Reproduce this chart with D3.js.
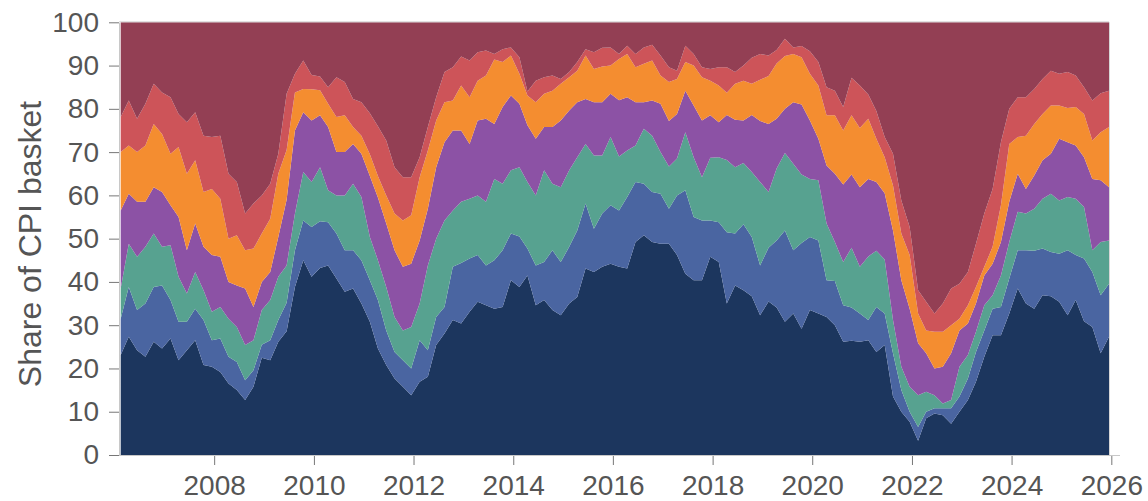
<!DOCTYPE html>
<html>
<head>
<meta charset="utf-8">
<script src="https://cdn.jsdelivr.net/npm/d3@7"></script>
<style>
body { margin: 0; background: #fff; }
text { font-family: "Liberation Sans", Arial, sans-serif; }
</style>
</head>
<body>
<div id="chart"></div>
<script>
// one observation every two months, Feb 2006 .. Dec 2025
var firstMonth = new Date(2006, 1, 15);
var stepMonths = 2;

// shares of the basket, bottom band first
var share1 = [23.1,27.3,24.2,22.7,26.2,24.6,26.9,21.9,24.2,26.5,
  20.8,20.4,19.2,16.5,15.0,12.7,15.8,22.5,21.9,26.2,
  28.6,38.8,45.0,41.2,43.2,43.8,40.8,37.7,38.5,35.0,
  30.8,24.6,20.8,17.7,15.8,13.8,16.9,18.1,25.4,28.1,
  31.2,30.4,33.1,35.4,34.6,33.8,34.2,40.4,38.8,41.5,
  34.6,35.8,33.5,32.3,35.0,36.5,43.1,42.3,43.5,44.2,
  43.5,43.1,49.2,50.8,49.2,48.8,48.8,46.2,41.9,40.4,
  40.4,45.8,44.6,35.0,39.2,38.1,36.7,32.3,35.5,34.1,
  30.8,32.7,29.2,33.5,32.7,31.9,30.0,26.2,26.4,26.2,
  26.5,23.8,25.4,13.5,10.0,7.7,3.3,8.5,9.6,9.2,
  7.2,10.0,12.7,16.9,22.7,27.7,27.7,32.7,38.5,35.0,
  33.8,36.9,36.7,35.4,32.3,35.8,30.9,29.6,23.5,27.3];
var share2 = [8.4,11.5,9.3,12.3,12.6,14.6,8.9,8.9,6.6,7.3,
  10.4,6.1,7.7,6.2,6.5,4.6,3.8,3.0,4.6,5.0,
  6.6,8.5,9.2,11.5,10.8,10.0,10.4,9.6,8.8,10.0,
  9.6,11.2,8.0,6.1,6.1,6.2,9.6,6.1,6.5,6.1,
  12.3,14.0,12.3,10.8,9.2,11.2,13.1,10.8,11.7,6.2,
  9.2,8.8,13.8,12.3,13.1,15.4,15.0,10.0,12.3,13.5,
  13.0,16.5,13.9,11.9,11.6,11.6,8.1,13.8,19.3,14.6,
  13.8,8.4,9.2,16.5,12.0,15.2,13.7,11.5,12.4,15.5,
  21.1,14.6,19.8,16.9,16.9,8.5,10.2,8.4,7.7,6.5,
  4.7,10.4,7.3,10.0,5.0,2.3,3.2,1.5,1.2,1.6,
  3.6,3.5,5.0,6.9,6.1,6.1,6.5,8.1,8.8,12.3,
  13.4,10.8,10.2,11.1,15.0,10.4,14.5,12.7,13.4,12.3];
var share3 = [7.0,10.0,12.3,13.1,12.4,8.9,12.7,10.4,6.5,8.5,
  6.9,6.6,7.3,8.8,8.1,8.1,6.9,8.0,9.3,10.0,
  8.6,8.5,11.2,10.4,12.5,7.4,8.8,12.7,15.4,14.6,
  10.0,9.2,10.0,8.1,6.9,9.6,8.5,19.6,18.1,20.0,
  13.0,14.1,13.8,13.8,14.7,18.8,15.4,14.6,16.0,15.4,
  16.2,21.2,15.4,17.3,17.7,16.9,13.8,16.9,13.4,15.8,
  12.5,10.8,8.4,12.7,13.0,9.6,9.8,8.5,13.4,13.8,
  10.0,14.5,15.0,16.7,15.3,14.2,15.0,19.3,12.9,16.6,
  17.9,20.0,15.8,13.4,13.9,13.1,9.0,10.0,13.8,10.8,
  14.7,13.0,12.5,7.7,5.4,5.8,7.3,4.6,3.0,1.1,
  1.9,6.9,5.4,4.7,5.8,3.1,7.3,8.4,8.9,8.5,
  9.7,11.5,13.5,12.3,12.3,13.0,11.9,5.0,12.3,10.0];
var share4 = [18.0,11.6,12.7,10.4,10.7,12.7,9.2,13.8,10.0,11.2,
  10.0,13.1,11.6,8.5,9.6,13.1,7.7,6.5,6.5,9.2,
  15.2,19.2,13.8,14.2,12.0,14.6,10.0,10.0,9.2,10.0,
  14.1,14.5,14.7,15.4,14.7,14.6,14.6,13.1,16.5,18.1,
  18.5,16.5,12.7,17.3,19.2,12.7,17.7,17.3,14.7,13.1,
  13.1,10.0,13.1,15.4,13.8,12.7,10.4,12.3,12.3,10.0,
  13.0,12.3,10.0,6.1,8.1,11.2,10.5,10.3,9.6,12.0,
  13.1,9.8,8.1,10.4,11.0,9.8,13.2,14.1,15.7,11.5,
  10.2,14.2,16.2,13.5,9.6,13.4,15.8,17.9,16.9,18.4,
  17.9,15.9,15.3,20.7,20.0,18.0,12.0,8.9,6.2,8.5,
  10.8,8.4,7.3,6.5,6.9,7.3,7.7,9.3,8.8,5.7,
  7.7,8.9,9.2,14.3,12.7,12.3,11.5,16.5,14.3,12.3];
var share5 = [13.5,11.1,11.5,13.0,14.6,13.4,11.9,16.2,17.7,14.6,
  12.7,15.3,13.4,10.0,11.6,8.8,13.5,11.2,12.3,14.6,
  11.5,8.8,5.4,7.2,5.8,5.4,8.1,8.5,3.9,4.2,
  5.0,5.0,6.5,8.5,10.7,11.2,14.6,13.5,10.8,9.2,
  6.9,10.4,10.8,9.2,10.0,14.9,10.4,9.2,6.9,6.9,
  8.4,7.7,8.4,8.5,7.7,7.3,10.0,7.7,8.3,6.5,
  9.5,10.0,8.1,8.9,9.3,6.5,9.0,8.1,6.6,9.2,
  10.0,8.0,8.5,5.1,8.3,9.2,7.2,9.5,11.1,12.8,
  12.2,11.2,10.9,10.8,12.3,11.6,13.5,12.5,13.7,13.7,
  13.9,10.0,8.3,10.4,10.8,12.4,6.9,5.3,8.5,8.1,
  6.5,2.7,4.2,3.8,2.0,3.9,8.5,13.4,8.5,12.3,
  11.9,10.7,11.2,7.7,7.9,8.9,10.0,8.9,11.1,13.9];
var share6 = [8.1,10.4,7.7,9.7,9.3,9.6,13.1,7.6,11.9,11.1,
  13.0,12.0,14.6,15.0,12.3,8.5,10.4,8.8,8.1,4.6,
  13.0,4.3,6.6,3.3,3.2,3.8,9.2,7.7,6.5,7.7,
  9.5,11.5,12.7,10.7,10.0,8.8,4.6,5.4,5.4,7.0,
  7.7,6.7,8.5,6.6,5.8,1.3,3.0,1.9,3.8,0.9,
  5.0,3.8,3.5,1.1,1.2,2.0,1.5,3.9,4.3,4.2,
  1.2,1.9,3.1,3.8,3.6,4.6,3.4,1.9,3.8,2.7,
  2.3,2.7,4.2,5.9,2.7,3.5,6.0,6.0,4.7,3.1,
  4.0,1.5,2.6,5.2,5.4,6.5,5.7,5.4,8.7,9.8,
  5.6,6.4,4.7,7.3,7.6,6.5,5.4,6.6,4.2,6.5,
  8.5,8.1,7.7,10.0,12.3,13.4,14.6,8.1,9.2,8.9,
  8.1,8.1,8.0,7.3,8.3,7.3,6.2,9.2,9.0,8.4];
var share7 = [21.9,18.1,22.3,18.8,14.2,16.2,17.3,21.2,23.1,20.8,
  26.2,26.5,26.2,35.0,36.9,44.2,41.9,40.0,37.3,30.4,
  16.5,11.9,8.8,12.2,12.5,15.0,12.7,13.8,17.7,18.5,
  21.0,24.0,27.3,33.5,35.8,35.8,31.2,24.2,17.3,11.5,
  10.4,7.9,8.8,6.9,6.5,7.3,6.2,5.8,8.1,16.0,
  13.5,12.7,12.3,13.1,11.5,9.2,6.2,6.9,5.9,5.8,
  7.3,5.4,7.3,5.8,5.2,7.7,10.4,11.2,5.4,7.3,
  10.4,10.8,10.4,10.4,11.5,10.0,8.2,7.3,7.7,6.4,
  3.8,5.8,5.5,6.7,9.2,15.0,15.8,19.6,12.8,14.6,
  16.7,20.5,26.5,30.4,41.2,47.3,61.9,64.6,67.3,65.0,
  61.5,60.4,57.7,51.2,44.2,38.5,27.7,20.0,17.3,17.3,
  15.4,13.1,11.2,11.9,11.5,12.3,15.0,18.1,16.4,15.8];

var bandColors = ["#1c365e", "#4a65a1", "#57a290", "#8c52a5", "#f48d30", "#cd5459", "#933f54"];
var yTicks = [0, 10, 20, 30, 40, 50, 60, 70, 80, 90, 100];
var xTickYears = [2008, 2010, 2012, 2014, 2016, 2018, 2020, 2022, 2024, 2026];

var width = 1148, height = 501;
var plotLeft = 120.7, plotRight = 1109, plotTop = 22.3, plotBottom = 455;

var series = [share1, share2, share3, share4, share5, share6, share7];
var keys = series.map(function(s, i) { return "s" + (i + 1); });

var rows = share1.map(function(v, i) {
  var row = {date: d3.timeMonth.offset(firstMonth, i * stepMonths)};
  series.forEach(function(s, k) { row[keys[k]] = s[i]; });
  return row;
});

var svg = d3.select("#chart")
  .append("svg")
  .attr("width", width)
  .attr("height", height);

var x = d3.scaleTime()
  .domain(d3.extent(rows, function(d) { return d.date; }))
  .range([plotLeft, plotRight]);

var y = d3.scaleLinear()
  .domain([0, 100])
  .range([plotBottom, plotTop]);

var stacked = d3.stack().keys(keys)(rows);

var area = d3.area()
  .x(function(d) { return x(d.data.date); })
  .y0(function(d) { return y(d[0]); })
  .y1(function(d) { return y(d[1]); });

svg.append("g")
  .selectAll("path")
  .data(stacked)
  .join("path")
  .attr("d", area)
  .attr("fill", function(d, i) { return bandColors[i]; });

// frame lines
svg.append("line")
  .attr("x1", 119).attr("x2", plotRight).attr("y1", plotTop - 0.5).attr("y2", plotTop - 0.5)
  .attr("stroke", "#d6d6d6");
svg.append("line")
  .attr("x1", plotRight + 0.5).attr("x2", plotRight + 0.5).attr("y1", plotTop).attr("y2", plotBottom)
  .attr("stroke", "#d6d6d6");

// y axis
var yAxis = svg.append("g")
  .attr("transform", "translate(119,0)")
  .call(d3.axisLeft(y).tickValues(yTicks).tickSize(10).tickPadding(10).tickSizeOuter(0));
yAxis.select(".domain").attr("stroke", "#c8c8c8");
yAxis.selectAll(".tick line").attr("stroke", "#777");
yAxis.selectAll(".tick text")
  .attr("fill", "#555")
  .style("font-size", "28px")
  .style("font-family", "'Liberation Sans', Arial, sans-serif");

// x axis
var xAxis = svg.append("g")
  .attr("transform", "translate(0," + plotBottom + ")")
  .call(d3.axisBottom(x)
    .tickValues(xTickYears.map(function(yr) { return new Date(yr, 0, 1); }))
    .tickFormat(d3.timeFormat("%Y"))
    .tickSize(10).tickPadding(10).tickSizeOuter(0));
xAxis.select(".domain").remove();
xAxis.selectAll(".tick line").attr("stroke", "#777");
xAxis.selectAll(".tick text")
  .attr("fill", "#555")
  .style("font-size", "28px")
  .style("font-family", "'Liberation Sans', Arial, sans-serif");
svg.append("line")
  .attr("x1", 119).attr("x2", 1120).attr("y1", plotBottom + 0.5).attr("y2", plotBottom + 0.5)
  .attr("stroke", "#c8c8c8");

// axis title
svg.append("text")
  .attr("transform", "translate(41,244) rotate(-90)")
  .attr("text-anchor", "middle")
  .attr("fill", "#555")
  .style("font-size", "32px")
  .text("Share of CPI basket");
</script>
</body>
</html>
